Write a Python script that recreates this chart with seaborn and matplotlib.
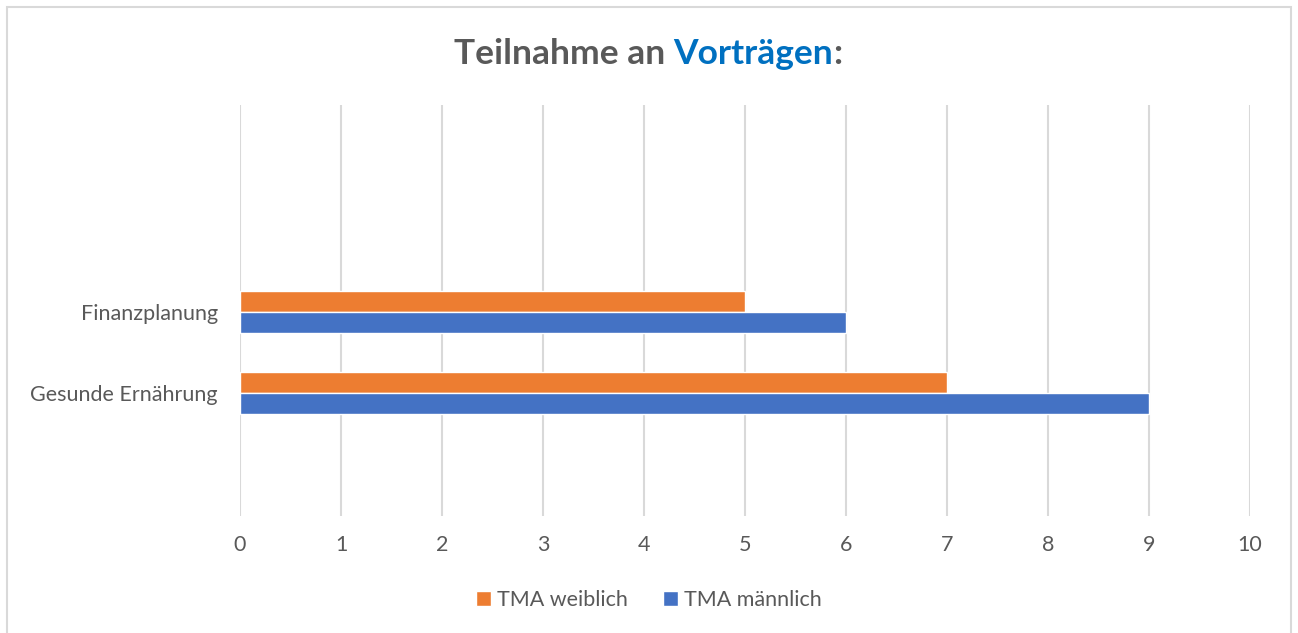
import matplotlib
matplotlib.use("Agg")
import matplotlib.pyplot as plt
import seaborn as sns
import pandas as pd
from matplotlib.patches import Rectangle

categories = ["Finanzplanung", "Gesunde Ernährung"]
weiblich = [5, 7]
maennlich = [6, 9]
series_names = ["TMA weiblich", "TMA männlich"]
x_ticks = [0, 1, 2, 3, 4, 5, 6, 7, 8, 9, 10]

df = pd.DataFrame({
    "Kategorie": categories * 2,
    "Wert": weiblich + maennlich,
    "Serie": [series_names[0]] * len(categories) + [series_names[1]] * len(categories),
})

sns.set_theme(style="white")
plt.rcParams["font.family"] = ["Lato", "DejaVu Sans"]

W, H = 1298, 633
fig = plt.figure(figsize=(W / 100, H / 100), dpi=100)
ax = fig.add_axes([240 / W, 1 - 516 / H, (1250 - 240) / W, (516 - 105) / H])

colors = {"TMA weiblich": "#ED7D31", "TMA männlich": "#4472C4"}
sns.barplot(data=df, x="Wert", y="Kategorie", hue="Serie", order=categories,
            hue_order=series_names, palette=colors, orient="h", width=0.52,
            ax=ax, saturation=1, legend=True, errorbar=None)

ax.set_xlim(0, 10)
ax.set_ylim(2.52, -2.55)
ax.set_xticks(x_ticks)
ax.set_xticklabels([str(t) for t in x_ticks])
ax.xaxis.grid(True, color="#D9D9D9", linewidth=1.5)
ax.set_axisbelow(True)
for s in ax.spines.values():
    s.set_visible(False)
ax.set_xlabel("")
ax.set_ylabel("")
ax.tick_params(axis="x", length=0, pad=14, labelsize=15.5, labelcolor="#595959")
ax.tick_params(axis="y", length=0, pad=16, labelsize=15.5, labelcolor="#595959")

leg = ax.get_legend()
handles, labels = ax.get_legend_handles_labels()
leg.remove()
fig.legend(handles, labels, loc="center", bbox_to_anchor=(0.5, 1 - 600 / H),
           ncol=2, frameon=False, fontsize=15.5, labelcolor="#595959",
           handlelength=0.7, handleheight=0.7, handletextpad=0.3, columnspacing=1.6)

# Figure frame
fig.patches.append(Rectangle((7 / W, -0.01), (1291 - 7) / W, 1 - 7 / H + 0.01,
                             transform=fig.transFigure, fill=False,
                             edgecolor="#D9D9D9", linewidth=1.5))

# Title in two colours
fig.canvas.draw()
r = fig.canvas.get_renderer()
parts = [("Teilnahme an ", "#595959"), ("Vorträgen", "#0070C0"), (":", "#595959")]
texts = []
for s, c in parts:
    t = fig.text(0, 1 - 54 / H, s, color=c, fontsize=25.5, fontweight="bold",
                 va="center", ha="left")
    texts.append(t)
widths = [t.get_window_extent(r).width for t in texts]
total = sum(widths)
x0 = 648 - total / 2
for t, w in zip(texts, widths):
    t.set_x(x0 / W)
    x0 += w

fig.savefig("out.png", dpi=100)
